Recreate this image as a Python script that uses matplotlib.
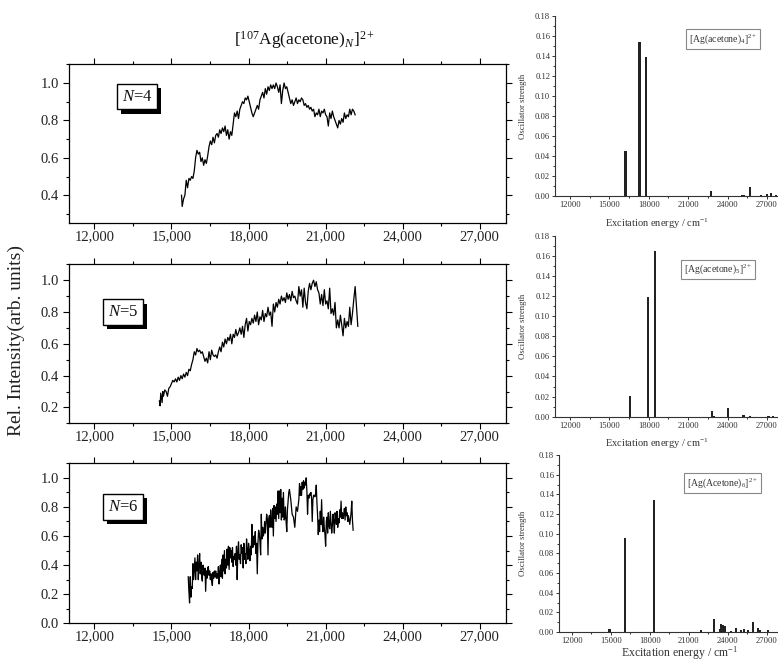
import matplotlib
matplotlib.use("Agg")
import matplotlib.pyplot as plt
import matplotlib.patheffects as pe
from matplotlib.ticker import MultipleLocator, FuncFormatter, FormatStrFormatter

plt.rcParams['font.family'] = ['Liberation Serif', 'DejaVu Serif']
plt.rcParams['mathtext.fontset'] = 'custom'
plt.rcParams['mathtext.rm'] = 'Liberation Serif'
plt.rcParams['mathtext.it'] = 'Liberation Serif:italic'

# photodissociation spectra, wavenumber (cm-1) vs relative intensity
x4 = [15391, 15417, 15470, 15522, 15574, 15626, 15678, 15730, 15783, 15835,
      15887, 15939, 15991, 16043, 16096, 16148, 16200, 16252, 16304, 16357,
      16409, 16461, 16513, 16565, 16617, 16670, 16722, 16774, 16826, 16878,
      16930, 16983, 17035, 17087, 17139, 17191, 17243, 17296, 17348, 17400,
      17452, 17504, 17557, 17609, 17661, 17713, 17765, 17817, 17870, 17922,
      17974, 18026, 18078, 18130, 18183, 18235, 18287, 18339, 18391, 18443,
      18496, 18548, 18600, 18652, 18704, 18757, 18809, 18861, 18913, 18965,
      19017, 19070, 19122, 19174, 19226, 19278, 19330, 19383, 19435, 19487,
      19539, 19591, 19643, 19696, 19748, 19800, 19852, 19904, 19957, 20009,
      20061, 20113, 20165, 20217, 20270, 20322, 20374, 20426, 20478, 20530,
      20583, 20635, 20687, 20739, 20791, 20843, 20896, 20948, 21000, 21052,
      21104, 21157, 21209, 21261, 21313, 21365, 21417, 21470, 21522, 21574,
      21626, 21678, 21730, 21783, 21835, 21887, 21939, 21991, 22043, 22096,
      22148]
y4 = [0.40, 0.34, 0.38, 0.40, 0.48, 0.44, 0.49, 0.48, 0.50, 0.49,
      0.53, 0.60, 0.64, 0.62, 0.63, 0.58, 0.60, 0.56, 0.59, 0.57,
      0.61, 0.66, 0.69, 0.67, 0.71, 0.68, 0.72, 0.73, 0.71, 0.75,
      0.73, 0.76, 0.74, 0.77, 0.72, 0.75, 0.70, 0.74, 0.72, 0.78,
      0.84, 0.82, 0.85, 0.81, 0.86, 0.88, 0.90, 0.89, 0.92, 0.91,
      0.93, 0.90, 0.87, 0.84, 0.82, 0.84, 0.86, 0.88, 0.86, 0.91,
      0.93, 0.95, 0.92, 0.97, 0.94, 0.98, 0.96, 0.99, 0.97, 0.99,
      0.97, 1.00, 0.98, 0.95, 0.99, 0.89, 0.96, 1.00, 0.97, 0.98,
      0.95, 0.92, 0.89, 0.91, 0.88, 0.90, 0.92, 0.89, 0.91, 0.90,
      0.92, 0.91, 0.88, 0.89, 0.87, 0.88, 0.86, 0.87, 0.85, 0.86,
      0.82, 0.84, 0.83, 0.86, 0.82, 0.85, 0.84, 0.86, 0.83, 0.82,
      0.77, 0.84, 0.81, 0.85, 0.82, 0.80, 0.78, 0.76, 0.80, 0.78,
      0.81, 0.79, 0.84, 0.81, 0.83, 0.82, 0.86, 0.83, 0.86, 0.85,
      0.83]

x5 = [14530, 14556, 14583, 14635, 14661, 14687, 14739,
      14791, 14843, 14896, 14948, 15000, 15052, 15104, 15157, 15209, 15261,
      15313, 15365, 15417, 15470, 15522, 15574, 15626, 15678, 15730, 15783,
      15835, 15887, 15939, 15991, 16043, 16096, 16148, 16200, 16252, 16304,
      16357, 16409, 16461, 16513, 16565, 16617, 16670, 16722, 16774, 16826,
      16878, 16930, 16983, 17035, 17087, 17139, 17191, 17243, 17296, 17348,
      17400, 17452, 17504, 17557, 17609, 17661, 17713, 17765, 17817, 17870,
      17922, 17974, 18026, 18078, 18130, 18183, 18235, 18287, 18339, 18391,
      18443, 18496, 18548, 18600, 18652, 18704, 18757, 18809, 18861, 18913,
      18965, 19017, 19070, 19122, 19174, 19226, 19278, 19330, 19383, 19435,
      19487, 19539, 19591, 19643, 19696, 19748, 19800, 19852, 19904, 19957,
      20009, 20061, 20113, 20165, 20217, 20270, 20322, 20374, 20426, 20478,
      20530, 20583, 20635, 20687, 20739, 20791, 20843, 20896, 20948, 21000,
      21052, 21104, 21157, 21209, 21261, 21313, 21365, 21417, 21470, 21522,
      21574, 21626, 21678, 21730, 21783, 21835, 21887, 21939, 21991, 22043,
      22096, 22148, 22200, 22252]
y5 = [0.24, 0.21, 0.29, 0.23, 0.30, 0.27, 0.31,
      0.30, 0.27, 0.32, 0.33, 0.35, 0.37, 0.36, 0.38, 0.36, 0.39,
      0.37, 0.40, 0.38, 0.41, 0.39, 0.42, 0.40, 0.44, 0.43, 0.47,
      0.50, 0.55, 0.53, 0.57, 0.55, 0.56, 0.54, 0.55, 0.52, 0.49,
      0.51, 0.48, 0.55, 0.50, 0.56, 0.53, 0.52, 0.53, 0.51, 0.55,
      0.58, 0.55, 0.61, 0.58, 0.63, 0.60, 0.64, 0.62, 0.66, 0.60,
      0.66, 0.64, 0.69, 0.65, 0.67, 0.70, 0.66, 0.71, 0.64, 0.72,
      0.76, 0.68, 0.74, 0.72, 0.76, 0.73, 0.78, 0.74, 0.80, 0.72,
      0.77, 0.75, 0.81, 0.74, 0.79, 0.77, 0.83, 0.78, 0.80, 0.71,
      0.85, 0.80, 0.86, 0.83, 0.88, 0.85, 0.90, 0.87, 0.89, 0.86,
      0.92, 0.88, 0.91, 0.87, 0.93, 0.89, 0.90, 0.87, 0.85, 0.96,
      0.90, 0.94, 0.83, 0.95, 0.86, 0.82, 0.93, 0.98, 0.94, 0.98,
      1.00, 0.96, 0.99, 0.94, 0.92, 0.85, 0.91, 0.84, 0.94, 0.85,
      0.87, 0.82, 0.95, 0.79, 0.82, 0.78, 0.86, 0.70, 0.75, 0.70,
      0.78, 0.72, 0.65, 0.76, 0.70, 0.74, 0.71, 0.83, 0.72, 0.79,
      0.88, 0.96, 0.84, 0.71]

x6 = [15652, 15678, 15704, 15730, 15757, 15783, 15809, 15835, 15861, 15887,
      15913, 15939, 15965, 15991, 16017, 16043, 16070, 16096, 16122, 16148,
      16174, 16200, 16226, 16252, 16278, 16304, 16330, 16357, 16383, 16409,
      16435, 16461, 16487, 16513, 16539, 16565, 16591, 16617, 16643, 16670,
      16696, 16722, 16748, 16774, 16800, 16826, 16852, 16878, 16904, 16930,
      16957, 16983, 17009, 17035, 17061, 17087, 17113, 17139, 17165, 17191,
      17217, 17243, 17270, 17296, 17322, 17348, 17374, 17400, 17426, 17452,
      17478, 17504, 17530, 17557, 17583, 17609, 17635, 17661, 17687, 17713,
      17739, 17765, 17791, 17817, 17843, 17870, 17896, 17922, 17948, 17974,
      18000, 18026, 18052, 18078, 18104, 18130, 18157, 18183, 18209, 18235,
      18261, 18287, 18313, 18339, 18365, 18391, 18417, 18443, 18470, 18496,
      18522, 18548, 18574, 18600, 18626, 18652, 18678, 18704, 18730, 18757,
      18783, 18809, 18835, 18861, 18887, 18913, 18939, 18965, 18991, 19017,
      19043, 19070, 19096, 19122, 19148, 19174, 19200, 19226, 19252, 19278,
      19304, 19330, 19357, 19383, 19409, 19435, 19461, 19487, 19513,
      19565, 19591, 19643, 19696, 19748, 19800, 19852, 19904, 19957,
      19983, 20009, 20035, 20061, 20087, 20113, 20139, 20165, 20191, 20217,
      20243, 20270, 20296, 20322, 20348, 20374, 20400, 20426, 20452, 20478,
      20504, 20530, 20557, 20583, 20609, 20635, 20661, 20687, 20713, 20739,
      20765, 20791, 20817, 20843, 20870, 20896, 20922, 20948, 20974, 21000,
      21026, 21052, 21078, 21104, 21130, 21157, 21183, 21209, 21235, 21261,
      21287, 21313, 21339, 21365, 21391, 21417, 21443, 21470, 21496, 21522,
      21548, 21574, 21600, 21626, 21652, 21678, 21704, 21730, 21757, 21783,
      21809, 21835, 21861, 21887, 21913, 21939, 21965, 21991, 22017, 22043,
      22070]
y6 = [0.32, 0.22, 0.14, 0.32, 0.18, 0.25, 0.24, 0.41, 0.30, 0.38,
      0.45, 0.30, 0.42, 0.36, 0.47, 0.30, 0.40, 0.48, 0.34, 0.42,
      0.32, 0.29, 0.40, 0.36, 0.33, 0.38, 0.22, 0.36, 0.31, 0.38,
      0.39, 0.33, 0.36, 0.30, 0.34, 0.29, 0.26, 0.35, 0.31, 0.36,
      0.32, 0.36, 0.31, 0.34, 0.31, 0.39, 0.27, 0.35, 0.40, 0.32,
      0.44, 0.31, 0.47, 0.36, 0.50, 0.34, 0.44, 0.38, 0.51, 0.40,
      0.53, 0.37, 0.52, 0.45, 0.50, 0.42, 0.52, 0.39, 0.46, 0.44,
      0.48, 0.40, 0.53, 0.30, 0.49, 0.56, 0.44, 0.47, 0.41, 0.54,
      0.48, 0.52, 0.38, 0.55, 0.44, 0.48, 0.41, 0.58, 0.50, 0.44,
      0.55, 0.50, 0.43, 0.53, 0.47, 0.68, 0.52, 0.53, 0.60, 0.54,
      0.63, 0.48, 0.55, 0.34, 0.55, 0.64, 0.62, 0.56, 0.47, 0.75,
      0.58, 0.66, 0.60, 0.62, 0.70, 0.62, 0.68, 0.75, 0.72, 0.47,
      0.71, 0.74, 0.66, 0.78, 0.69, 0.66, 0.79, 0.60, 0.81, 0.72,
      0.80, 0.70, 0.82, 0.75, 0.91, 0.72, 0.91, 0.76, 0.92, 0.71,
      0.86, 0.73, 0.90, 0.71, 0.72, 0.80, 0.70, 0.63, 0.78,
      0.90, 0.92, 0.85, 0.75, 0.73, 0.66, 0.80, 0.77, 0.85,
      0.96, 0.88, 0.94, 0.88, 0.97, 0.92, 0.98, 0.93, 0.97, 0.95,
      1.00, 0.91, 0.75, 0.88, 0.86, 0.89, 0.88, 0.90, 0.86, 0.70,
      0.85, 0.88, 0.88, 0.87, 0.89, 0.95, 0.83, 0.74, 0.61, 0.71,
      0.63, 0.77, 0.68, 0.85, 0.68, 0.63, 0.73, 0.66, 0.61, 0.53,
      0.70, 0.73, 0.62, 0.76, 0.67, 0.65, 0.77, 0.70, 0.62, 0.67,
      0.75, 0.70, 0.62, 0.76, 0.74, 0.68, 0.77, 0.66, 0.72, 0.69,
      0.78, 0.73, 0.84, 0.72, 0.76, 0.72, 0.75, 0.79, 0.71, 0.80,
      0.74, 0.76, 0.70, 0.74, 0.71, 0.68, 0.72, 0.76, 0.84, 0.71,
      0.64]

# calculated transitions: energy (cm-1) and oscillator strength
e4 = [16220, 17290, 17820, 22750, 25100, 25270, 25730, 26540, 27000, 27330, 27700]
f4 = [0.045, 0.154, 0.139, 0.005, 0.001, 0.001, 0.009, 0.001, 0.002, 0.003, 0.001]
e5 = [16550, 17970, 18460, 22830, 23000, 24070, 25220, 25680, 27120, 27500]
f5 = [0.021, 0.119, 0.165, 0.006, 0.001, 0.009, 0.002, 0.001, 0.001, 0.001]
e6 = [14900, 16100, 18285, 21920, 22950, 23410, 23490, 23640, 23790, 24230,
      24620, 25000, 25250, 25510, 25950, 26290, 26490, 27050]
f6 = [0.003, 0.096, 0.134, 0.002, 0.013, 0.003, 0.008, 0.007, 0.006, 0.001,
      0.004, 0.002, 0.003, 0.002, 0.010, 0.004, 0.002, 0.002]

spectra = [(x4, y4, '4', (0.25, 1.1)), (x5, y5, '5', (0.1, 1.1)), (x6, y6, '6', (0.0, 1.1))]
calcs = [(e4, f4, '[Ag(acetone)$_{4}$]$^{2+}$'),
         (e5, f5, '[Ag(acetone)$_{5}$]$^{2+}$'),
         (e6, f6, '[Ag(Acetone)$_{6}$]$^{2+}$')]

W, H = 778, 662
fig = plt.figure(figsize=(W / 100, H / 100), dpi=100)


def px_axes(left, top, right, bottom):
    return fig.add_axes([left / W, 1 - bottom / H, (right - left) / W, (bottom - top) / H])


left_boxes = [(64.3, 223.3), (264.3, 423.3), (463.3, 623.3)]
tag_pos = [(0.157, 0.796), (0.124, 0.70), (0.124, 0.727)]
thousands = FuncFormatter(lambda v, p: f'{int(v):,}')

for (xs, ys, n, ylim), (top, bot), (tx, ty) in zip(spectra, left_boxes, tag_pos):
    ax = px_axes(68.7, top, 505.5, bot)
    ax.plot(xs, ys, color='black', lw=0.9)
    ax.set_xlim(11000, 28000)
    ax.set_ylim(*ylim)
    ax.xaxis.set_major_locator(MultipleLocator(3000))
    ax.xaxis.set_minor_locator(MultipleLocator(1500))
    ax.xaxis.set_major_formatter(thousands)
    ax.yaxis.set_major_locator(MultipleLocator(0.2))
    ax.yaxis.set_minor_locator(MultipleLocator(0.1))
    ax.yaxis.set_major_formatter(FormatStrFormatter('%.1f'))
    ax.tick_params(which='both', direction='out', top=True, right=True,
                   labelsize=10.5, labelcolor='#222', width=0.8)
    ax.tick_params(which='major', length=4)
    ax.tick_params(which='minor', length=2.5)
    ax.tick_params(axis='x', pad=1)
    ax.tick_params(axis='y', pad=3)
    for s in ax.spines.values():
        s.set_linewidth(0.9)
    # N tag in a box with a drop shadow
    tag = ax.text(tx, ty, rf'$\mathit{{N}}$={n}', transform=ax.transAxes, color='#111',
                  ha='center', va='center', fontsize=12,
                  bbox=dict(boxstyle='square,pad=0.28', fc='white', ec='black', lw=1))
    tag.get_bbox_patch().set_path_effects([
        pe.SimplePatchShadow(offset=(3, -3), shadow_rgbFace='black', alpha=1.0), pe.Normal()])

fig.text(0.392, 0.94, r'[$^{107}$Ag(acetone)$_{N}$]$^{2+}$', ha='center', va='center',
         fontsize=12.5, color='#111')
fig.text(0.021, 0.486, 'Rel. Intensity(arb. units)', rotation=90, ha='center', va='center',
         fontsize=14, color='#222')

right_boxes = [(555, 15.7, 196.3, 10850), (555, 235.7, 416.7, 10850), (559, 455, 632, 11020)]
label_pos = [(0.748, 0.869), (0.724, 0.813), (0.741, 0.84)]
xlab_x = [657, 657, 680]
xlab_y = [-0.11, -0.11, -0.072]
xlab_size = [7.5, 7.5, 8.5]

for (es, fs, name), (l, top, bot, x0), (lx, ly), xx, yy, xs_ in zip(
        calcs, right_boxes, label_pos, xlab_x, xlab_y, xlab_size):
    ax = px_axes(l, top, 780, bot)
    ax.bar(es, fs, width=160, color='#222', linewidth=0)
    ax.set_xlim(x0, 28000)
    ax.set_ylim(0, 0.18)
    ax.xaxis.set_major_locator(MultipleLocator(3000))
    ax.xaxis.set_minor_locator(MultipleLocator(1500))
    ax.yaxis.set_major_locator(MultipleLocator(0.02))
    ax.yaxis.set_minor_locator(MultipleLocator(0.01))
    ax.yaxis.set_major_formatter(FormatStrFormatter('%.2f'))
    ax.spines['top'].set_visible(False)
    ax.spines['right'].set_visible(False)
    for s in ('left', 'bottom'):
        ax.spines[s].set_linewidth(0.8)
        ax.spines[s].set_color('#333')
    ax.tick_params(which='both', direction='out', labelsize=6.2, labelcolor='#333',
                   color='#333', width=0.7, pad=1)
    ax.tick_params(which='major', length=2.5)
    ax.tick_params(which='minor', length=1.5)
    ax.set_ylabel('Oscillator strength', fontsize=6.3, color='#333')
    ax.yaxis.set_label_coords(-(l - 527) / (780 - l), 0.5)
    ax.set_xlabel('Excitation energy / cm$^{-1}$', fontsize=xs_, color='#333')
    ax.xaxis.set_label_coords((xx - l) / (780 - l), yy)
    ax.text(lx, ly, name, transform=ax.transAxes, ha='center', va='center', fontsize=7,
            color='#333', bbox=dict(boxstyle='square,pad=0.3', fc='white', ec='#888', lw=0.8))

fig.savefig('out.png', dpi=100)
